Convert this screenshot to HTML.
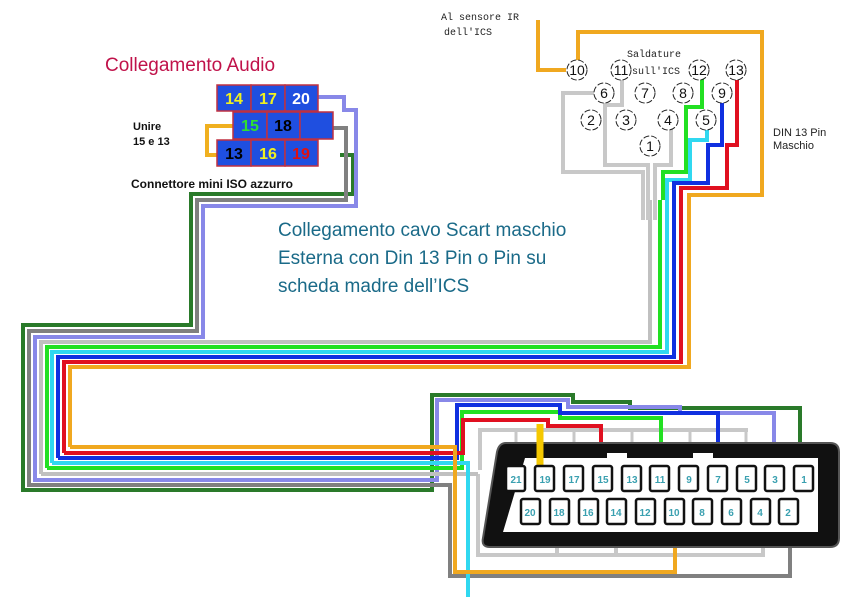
<!DOCTYPE html>
<html><head><meta charset="utf-8"><style>
body{margin:0;background:#fff;width:856px;height:597px;overflow:hidden;font-family:"Liberation Sans",sans-serif}
svg{position:absolute;left:0;top:0}
</style></head><body>
<svg width="856" height="597" viewBox="0 0 856 597" xmlns="http://www.w3.org/2000/svg">
<g fill="none" stroke-width="4" stroke-linejoin="miter">
<polyline stroke="#c8c8c8" points="480,470 480,430 748,430"/>
<g stroke="#c8c8c8" stroke-width="3"><line x1="516" y1="430" x2="516" y2="445"/><line x1="574" y1="430" x2="574" y2="445"/><line x1="632" y1="430" x2="632" y2="445"/><line x1="690" y1="430" x2="690" y2="445"/><line x1="746" y1="430" x2="746" y2="445"/></g>
<polyline stroke="#c8c8c8" points="478,474 478,555 763,555 763,540"/>
<line stroke="#c8c8c8" x1="557" y1="540" x2="557" y2="555"/><line stroke="#c8c8c8" x1="616" y1="540" x2="616" y2="555"/>
<polyline stroke="#2a7a2a" points="340,155 353,155 353,194 191,194 191,325 23,325 23,490 432,490 432,395 573,395 573,402 630,402 630,408 800,408 800,445"/>
<polyline stroke="#808080" points="300,128 346,128 346,200 197,200 197,331 29,331 29,485 450,485 450,576 790,576 790,540"/>
<polyline stroke="#8888e8" points="318,97 344,97 344,110 356,110 356,206 203,206 203,337 35,337 35,480 437,480 437,400 568,400 568,407 680,407 680,413 774,413 774,445"/>
<polyline stroke="#c0c0c0" points="41,474 478,474"/>
<polyline stroke="#c0c0c0" points="41,474 41,342 650,342 650,200"/>
<polyline stroke="#22e022" points="47,468 462,468 462,412 560,412 560,418 661,418 661,445"/>
<polyline stroke="#22e022" points="47,468 47,347 660,347 660,200"/>
<polyline stroke="#30d8f0" points="52,463 468,463 468,597"/>
<polyline stroke="#30d8f0" points="52,463 52,352 667,352 667,180 690,180 690,140 707,140 707,128"/>
<polyline stroke="#1030e0" points="58,458 457,458 457,405 560,405 560,413 718,413 718,445"/>
<polyline stroke="#1030e0" points="58,458 58,357 674,357 674,183 708,183 708,145 722,145 722,95"/>
<polyline stroke="#e01020" points="64,453 463,453 463,420 548,420 548,426 601,426 601,445"/>
<polyline stroke="#e01020" points="64,453 64,362 681,362 681,188 727,188 727,145 737,145 737,80"/>
<polyline stroke="#f0a820" points="70,447 455,447 455,572 675,572 675,540"/>
<polyline stroke="#f0a820" points="70,447 70,367 689,367 689,195 762,195 762,32 578,32 578,66"/>
<polyline stroke="#f0a820" points="538,20 538,70 566,70"/>
<polyline stroke="#c8c8c8" points="594,93 563,93 563,172 643,172 643,220"/>
<polyline stroke="#c8c8c8" points="622,80 622,105 605,105 605,165 648,165 648,220"/>
<polyline stroke="#c8c8c8" points="671,128 671,165 655,165 655,220"/>
<polyline stroke="#22e022" points="702,78 702,107 686,107 686,172 663,172 663,200"/>
<polyline stroke="#f0b020" points="236,126 207,126 207,155 219,155"/>
</g>
<g stroke="#c03040" stroke-width="1.5" fill="#1f4fe0">
<rect x="217" y="85" width="34" height="26"/><rect x="251" y="85" width="34" height="26"/><rect x="285" y="85" width="33" height="26"/>
<rect x="233" y="112" width="34" height="27"/><rect x="267" y="112" width="33" height="27"/><rect x="300" y="112" width="33" height="27"/>
<rect x="217" y="140" width="34" height="26"/><rect x="251" y="140" width="34" height="26"/><rect x="285" y="140" width="33" height="26"/>
</g>
<g font-family="Liberation Sans" font-weight="bold" font-size="16" text-anchor="middle">
<text x="234" y="104" fill="#f0f020">14</text><text x="268" y="104" fill="#f0f020">17</text><text x="301" y="104" fill="#fff">20</text>
<text x="250" y="131" fill="#30e030">15</text><text x="283" y="131" fill="#000">18</text>
<text x="234" y="159" fill="#000">13</text><text x="268" y="159" fill="#f0f020">16</text><text x="301" y="159" fill="#e01010">19</text>
</g>
<text x="105" y="71" font-size="19" fill="#c0124a" font-family="Liberation Sans">Collegamento Audio</text>
<g font-family="Liberation Sans" font-weight="bold" font-size="11" fill="#111">
<text x="133" y="130">Unire</text><text x="133" y="145">15 e 13</text>
<text x="131" y="188" font-size="12">Connettore mini ISO azzurro</text></g>
<g font-family="Liberation Sans" font-size="19" fill="#1a6a88">
<text x="278" y="236">Collegamento cavo Scart maschio</text>
<text x="278" y="264">Esterna con Din 13 Pin o Pin su</text>
<text x="278" y="292">scheda madre dell’ICS</text></g>
<g font-family="Liberation Mono" font-size="10" fill="#222"><text x="441" y="20">Al sensore IR</text><text x="444" y="35">dell'ICS</text>
<text x="627" y="57">Saldature</text><text x="632" y="74">sull'ICS</text></g>
<g font-family="Liberation Sans" font-size="11" fill="#222"><text x="773" y="136">DIN 13 Pin</text><text x="773" y="149">Maschio</text></g>
<g stroke="#222" stroke-width="1" fill="#fff" stroke-dasharray="6 2">
<circle cx="577" cy="70" r="10"/><circle cx="621" cy="70" r="10"/><circle cx="699" cy="70" r="10"/><circle cx="736" cy="70" r="10"/>
<circle cx="604" cy="93" r="10"/><circle cx="645" cy="93" r="10"/><circle cx="683" cy="93" r="10"/><circle cx="722" cy="93" r="10"/>
<circle cx="591" cy="120" r="10"/><circle cx="626" cy="120" r="10"/><circle cx="668" cy="120" r="10"/><circle cx="706" cy="120" r="10"/>
<circle cx="650" cy="146" r="10"/></g>
<g font-family="Liberation Sans" font-size="14" text-anchor="middle" fill="#111">
<text x="577" y="75">10</text><text x="621" y="75">11</text><text x="699" y="75">12</text><text x="736" y="75">13</text>
<text x="604" y="98">6</text><text x="645" y="98">7</text><text x="683" y="98">8</text><text x="722" y="98">9</text>
<text x="591" y="125">2</text><text x="626" y="125">3</text><text x="668" y="125">4</text><text x="706" y="125">5</text><text x="650" y="151">1</text></g>
<!-- scart -->
<path d="M506,443 L830,443 Q839,443 839,452 L839,538 Q839,547 830,547 L490,547 Q481,547 483,538 L497,452 Q499,443 506,443 Z" fill="#111" stroke="#555" stroke-width="2"/>
<path d="M525,458 L818,458 L818,532 L503,532 Z" fill="#fff"/>
<rect x="607" y="453" width="20" height="6" fill="#fff"/><rect x="693" y="453" width="20" height="6" fill="#fff"/>
<line stroke="#f5c800" stroke-width="7" x1="540" y1="424" x2="540" y2="466"/>
<g stroke="#111" stroke-width="2.5" fill="#fff">
<rect x="506" y="466" width="19" height="25" rx="2"/><rect x="535" y="466" width="19" height="25" rx="2"/><rect x="564" y="466" width="19" height="25" rx="2"/><rect x="593" y="466" width="19" height="25" rx="2"/><rect x="622" y="466" width="19" height="25" rx="2"/><rect x="650" y="466" width="19" height="25" rx="2"/><rect x="679" y="466" width="19" height="25" rx="2"/><rect x="708" y="466" width="19" height="25" rx="2"/><rect x="737" y="466" width="19" height="25" rx="2"/><rect x="765" y="466" width="19" height="25" rx="2"/><rect x="794" y="466" width="19" height="25" rx="2"/>
<rect x="521" y="499" width="19" height="25" rx="2"/><rect x="550" y="499" width="19" height="25" rx="2"/><rect x="579" y="499" width="19" height="25" rx="2"/><rect x="607" y="499" width="19" height="25" rx="2"/><rect x="636" y="499" width="19" height="25" rx="2"/><rect x="665" y="499" width="19" height="25" rx="2"/><rect x="693" y="499" width="19" height="25" rx="2"/><rect x="722" y="499" width="19" height="25" rx="2"/><rect x="751" y="499" width="19" height="25" rx="2"/><rect x="779" y="499" width="19" height="25" rx="2"/></g>
<g font-family="Liberation Sans" font-weight="bold" font-size="10" fill="#3aa0b0" text-anchor="middle">
<text x="516" y="483">21</text><text x="545" y="483">19</text><text x="574" y="483">17</text><text x="603" y="483">15</text><text x="632" y="483">13</text><text x="660" y="483">11</text><text x="689" y="483">9</text><text x="718" y="483">7</text><text x="747" y="483">5</text><text x="775" y="483">3</text><text x="804" y="483">1</text>
<text x="530" y="516">20</text><text x="559" y="516">18</text><text x="588" y="516">16</text><text x="616" y="516">14</text><text x="645" y="516">12</text><text x="674" y="516">10</text><text x="702" y="516">8</text><text x="731" y="516">6</text><text x="760" y="516">4</text><text x="788" y="516">2</text></g>
</svg>
</body></html>
